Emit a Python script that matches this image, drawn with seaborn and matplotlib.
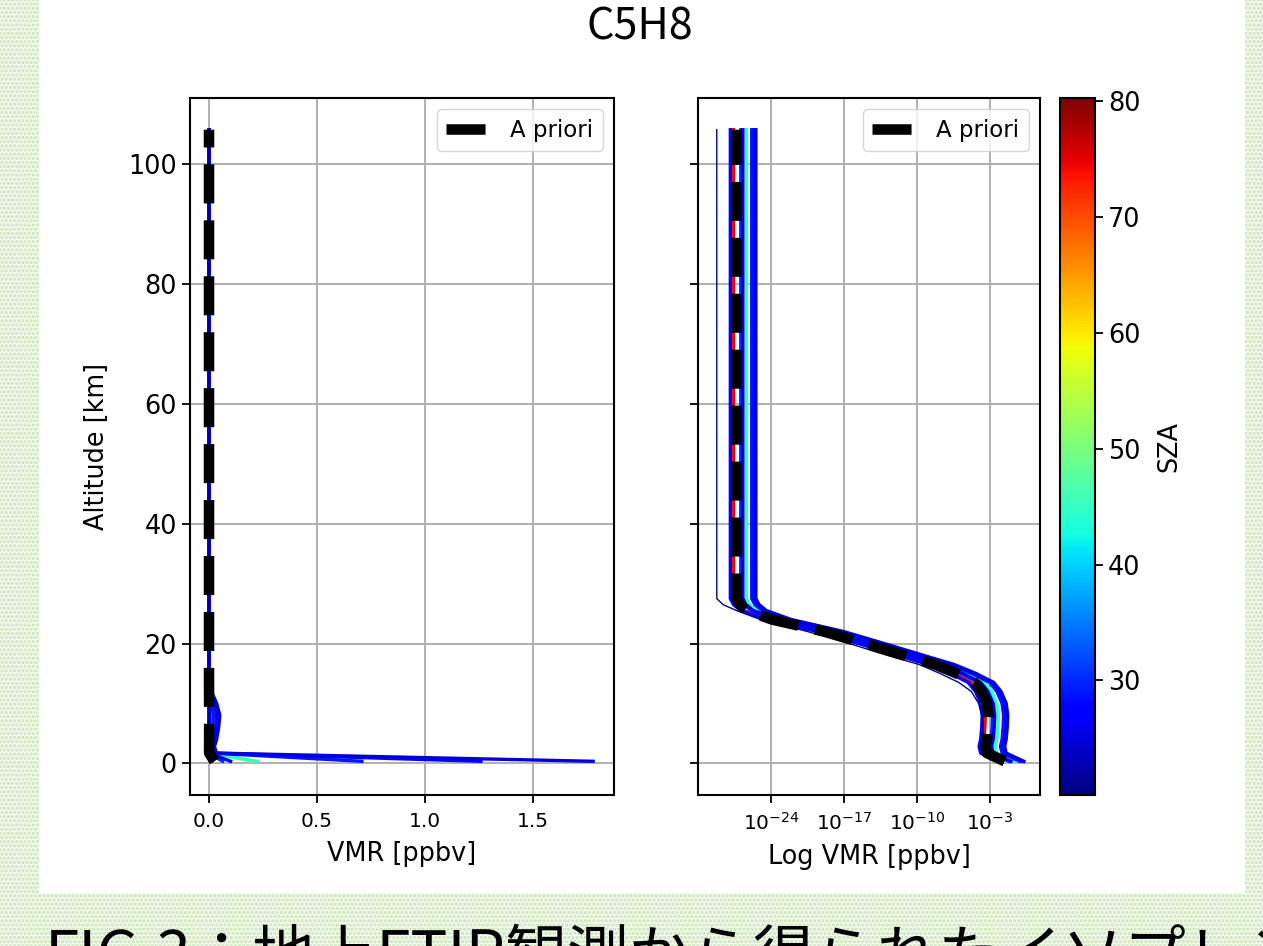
import numpy as np
import pandas as pd
import matplotlib
matplotlib.use("Agg")
import matplotlib.pyplot as plt
import seaborn as sns
from matplotlib import colors, cm
from matplotlib.patches import Rectangle

# ---------------- data ----------------
altitude_km = [0.33, 1.7, 2.8, 4, 6, 8, 10, 12, 13.5, 15, 16.5, 18, 20, 22, 24,
               25.5, 26.5, 27.5, 30, 40, 50, 60, 70, 80, 90, 100, 105.8]
# a priori profile, log10(VMR [ppbv])
apriori_log10 = [-1.6, -3.3, -3.45, -3.3, -3.2, -3.15, -3.3, -3.8, -4.5, -6.2,
                 -8.3, -11.2, -15.0, -18.9, -23.9, -26.3, -27.0, -27.3,
                 -27.3, -27.3, -27.3, -27.3, -27.3, -27.3, -27.3, -27.3, -27.3]
# retrieved profiles: solar zenith angle and retrieved scaling factor (log10)
sza_deg = [79, 74, 76, 45, 51, 27, 30, 26, 29, 28, 25]
scale_log10 = [-0.5, -0.4, -0.3, 0.95, 0.9, -0.6, 0.4, 0.6, 1.45, 1.7, 1.85]
# one outlying profile (thin navy line)
outlier_sza = 21
outlier_log10 = [-2.6, -3.4, -3.6, -3.65, -3.65, -3.8, -4.1, -4.8, -6.0, -7.8,
                 -9.8, -12.8, -16.5, -20.5, -25.0, -27.3, -28.6, -29.2,
                 -29.2, -29.2, -29.2, -29.2, -29.2, -29.2, -29.2, -29.2, -29.2]
sza_ticks = [30, 40, 50, 60, 70, 80]
sza_range = (20.1, 80.3)
log_ticks = [1e-24, 1e-17, 1e-10, 1e-3]
lin_ticks = [0.0, 0.5, 1.0, 1.5]
alt_ticks = [0, 20, 40, 60, 80, 100]

# ---------------- build tables ----------------
alt = np.array(altitude_km)
apri = 10.0 ** np.array(apriori_log10)
rows = []
for i, (s, f) in enumerate(zip(sza_deg, scale_log10)):
    for a, v in zip(alt, apri * 10.0 ** f):
        rows.append({"pid": i, "sza": s, "alt": a, "vmr": v})
df = pd.DataFrame(rows)
df_out = pd.DataFrame({"alt": alt, "vmr": 10.0 ** np.array(outlier_log10)})
df_apri = pd.DataFrame({"alt": alt, "vmr": apri})

cmap = plt.get_cmap("jet")
norm = colors.Normalize(*sza_range)

W, H = 1263, 946
fig = plt.figure(figsize=(W / 100, H / 100), dpi=100)

# slide background (dotted green) and white card
plt.rcParams["hatch.linewidth"] = 1.6
bg = Rectangle((0, 0), 1, 1, transform=fig.transFigure, facecolor="#f5faf1",
               hatch="....", edgecolor="#c6e1b2", lw=0, zorder=-20)
fig.patches.append(bg)
card = Rectangle((39 / W, (H - 893) / H), (1245 - 39) / W, 893 / H,
                 transform=fig.transFigure, facecolor="white", edgecolor="none",
                 zorder=-10)
fig.patches.append(card)

def px_axes(x0, x1, y0, y1):
    return fig.add_axes([x0 / W, (H - y1) / H, (x1 - x0) / W, (y1 - y0) / H])

ax1 = px_axes(190, 614, 98, 795)
ax2 = px_axes(698, 1040, 98, 795)
cax = px_axes(1060, 1095, 98, 795)

XTICK_FS = 14.5
YTICK_FS = 18.4
LABEL_FS = 18.4

def draw(ax):
    order = np.argsort(-np.array(sza_deg), kind="stable")
    for i in order:
        sub = df[df.pid == i]
        sns.lineplot(data=sub, x="vmr", y="alt", sort=False, estimator=None,
                     color=cmap(norm(sza_deg[i])), lw=2.4, ax=ax, legend=False)
    sns.lineplot(data=df_out, x="vmr", y="alt", sort=False, estimator=None,
                 color=cmap(norm(outlier_sza)), lw=1.0, ax=ax, legend=False)
    sns.lineplot(data=df_apri, x="vmr", y="alt", sort=False, estimator=None,
                 color="black", lw=7.6, linestyle="--", ax=ax, label="A priori")
    ax.grid(True, color="#b0b0b0", lw=1.4)
    ax.set_axisbelow(True)
    for sp in ax.spines.values():
        sp.set_linewidth(1.5)
    ax.tick_params(length=6, width=1.3)
    ax.tick_params(axis="x", labelsize=XTICK_FS, pad=6.5)
    ax.tick_params(axis="y", labelsize=YTICK_FS)
    ax.set_ylim(-5.3, 111.1)
    ax.set_yticks(alt_ticks)
    ax.legend(loc="upper right", fontsize=16.5, handlelength=2.0,
              framealpha=0.8, edgecolor="#cccccc")

draw(ax1)
ax1.set_xlim(-0.088, 1.875)
ax1.set_xticks(lin_ticks)
ax1.set_xlabel("VMR [ppbv]", fontsize=LABEL_FS, labelpad=7)
ax1.set_ylabel("Altitude [km]", fontsize=LABEL_FS, labelpad=13)

draw(ax2)
ax2.set_xscale("log")
ax2.set_xlim(10 ** -31.0, 10 ** 1.79)
ax2.set_xticks(log_ticks)
ax2.xaxis.set_minor_locator(matplotlib.ticker.NullLocator())
ax2.set_xlabel("Log VMR [ppbv]", fontsize=LABEL_FS, labelpad=7)
ax2.set_ylabel("")
ax2.tick_params(axis="y", labelleft=False)

cb = fig.colorbar(cm.ScalarMappable(norm=norm, cmap=cmap), cax=cax, ticks=sza_ticks)
cb.set_label("SZA", fontsize=LABEL_FS, labelpad=11)
cb.ax.tick_params(labelsize=YTICK_FS, length=6, width=1.3)
cb.outline.set_linewidth(1.5)

jp = ["Noto Sans CJK JP", "DejaVu Sans"]
fig.text(640 / W, (H - 40) / H, "C5H8", ha="center", va="baseline",
         fontsize=31, family=jp)
fig.text(45 / W, (H - 976) / H,
         "FIG.3：地上FTIR観測から得られたイソプレン濃度の鉛直分布",
         ha="left", va="baseline", fontsize=44.6, family=jp)

fig.savefig("out.png", dpi=100)
